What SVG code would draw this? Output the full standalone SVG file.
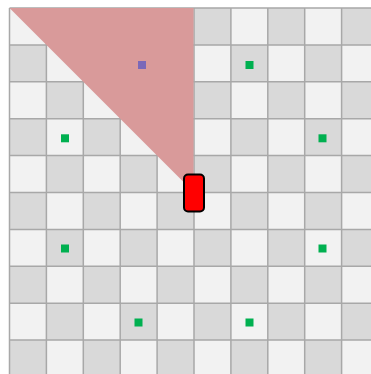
<svg xmlns="http://www.w3.org/2000/svg" width="371" height="374" viewBox="0 0 371 374">
<defs>
<style>
.gl{stroke:#a8a8a8;stroke-width:1.5;fill:none}
.tgt{fill:#00b050}
</style>
<pattern id="chk" patternUnits="userSpaceOnUse" x="9.5" y="8" width="73.8" height="73.8">
<rect width="73.8" height="73.8" fill="#f2f2f2"/>
<rect x="36.9" y="0" width="36.9" height="36.9" fill="#d9d9d9"/>
<rect x="0" y="36.9" width="36.9" height="36.9" fill="#d9d9d9"/>
</pattern>
</defs>
<rect width="371" height="374" fill="#ffffff"/>
<g id="grid">
<rect x="9.5" y="8" width="369" height="369" fill="url(#chk)"/>
<path class="gl" d="M9.5 8V374M46.4 8V374M83.3 8V374M120.2 8V374M157.1 8V374M194 8V374M230.9 8V374M267.8 8V374M304.7 8V374M341.6 8V374M9.5 8H371M9.5 44.9H371M9.5 81.8H371M9.5 118.7H371M9.5 155.6H371M9.5 192.5H371M9.5 229.4H371M9.5 266.3H371M9.5 303.2H371M9.5 340.1H371"/>
</g>
<g id="view">
<polygon points="9.5,8 193.5,8 193.5,192" fill="#d99a9a"/>
</g>
<g id="targets">
<rect class="tgt" x="245.5" y="61" width="8" height="8"/>
<rect class="tgt" x="61" y="134.3" width="8" height="8"/>
<rect class="tgt" x="318.5" y="134.3" width="8" height="8"/>
<rect class="tgt" x="61" y="244.5" width="8" height="8"/>
<rect class="tgt" x="318.5" y="244.5" width="8" height="8"/>
<rect class="tgt" x="134.5" y="318.5" width="8" height="8"/>
<rect class="tgt" x="245.5" y="318.5" width="8" height="8"/>
</g>
<g id="seen">
<rect x="138" y="61" width="8" height="8" fill="#7b68b8"/>
</g>
<g id="robot">
<rect x="184" y="174.5" width="20" height="37" rx="4" fill="#ff0000" stroke="#000000" stroke-width="2"/>
</g>
</svg>
